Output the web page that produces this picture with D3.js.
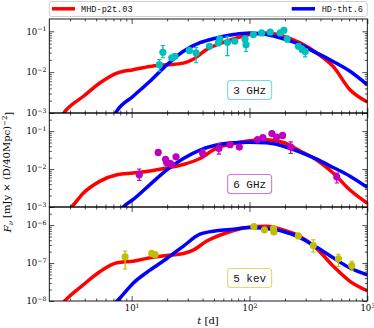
<!DOCTYPE html>
<html>
<head>
<meta charset="utf-8">
<script src="https://cdn.jsdelivr.net/npm/d3@7"></script>
<style>
body{margin:0;background:#fff}
svg{display:block}
</style>
</head>
<body>
<svg id="chart" width="374" height="328"></svg>
<script>
// nomi e limiti
const models = ['MHD-p2t.03', 'HD-tht.6']
const bands = ['3 GHz', '6 GHz', '5 kev']
const xLim = [2, 1000]
const yLims = [[1e-3, 0.2], [1e-3, 0.3], [1e-8, 3e-6]]
const xTickVals = [10, 100, 1000]
const yTickVals = [[1e-3, 1e-2, 1e-1], [1e-3, 1e-2, 1e-1], [1e-8, 1e-7, 1e-6]]

// curve modello 3 GHz
const tRed1 = [2.5, 2.8, 3.9, 5.4, 7.5, 10.3, 14.3, 19.9, 27.5, 33, 43, 64, 100, 140, 194, 269, 372, 513, 713, 1000]
const fRed1 = [7.9e-4, 1.2e-3, 2.57e-3, 5.5e-3, 9.5e-3, 1.15e-2, 1.38e-2, 1.51e-2, 1.66e-2, 2.04e-2, 3.55e-2, 5.7e-2, 8.3e-2, 9.1e-2, 7.6e-2, 5.2e-2, 2.95e-2, 1.38e-2, 3.7e-3, 1.86e-3]
const tBlue1 = [7, 7.5, 10.3, 14.3, 19.9, 27.5, 38, 52.5, 73, 100, 140, 194, 269, 372, 513, 713, 1000]
const fBlue1 = [7.9e-4, 1.12e-3, 2.57e-3, 6.0e-3, 1.51e-2, 3.24e-2, 5.25e-2, 6.9e-2, 8.3e-2, 9.1e-2, 8.3e-2, 6.5e-2, 4.7e-2, 2.95e-2, 1.82e-2, 1.05e-2, 4.9e-3]

// curve modello 6 GHz
const tRed2 = [2.8, 3.1, 3.9, 5.4, 7.5, 10.3, 14.3, 19.9, 27.5, 38, 52.5, 73, 100, 140, 194, 269, 372, 513, 713, 1000]
const fRed2 = [7.1e-4, 1.0e-3, 2.34e-3, 4.8e-3, 7.1e-3, 7.9e-3, 8.9e-3, 1.07e-2, 1.32e-2, 1.9e-2, 3.55e-2, 4.7e-2, 5.6e-2, 5.9e-2, 5.0e-2, 3.0e-2, 1.74e-2, 7.9e-3, 2.8e-3, 1.26e-3]
const tBlue2 = [8, 8.5, 10.3, 14.3, 19.9, 27.5, 38, 52.5, 73, 100, 140, 194, 269, 372, 513, 713, 1000]
const fBlue2 = [7.9e-4, 1.0e-3, 1.58e-3, 3.9e-3, 9.5e-3, 1.9e-2, 3.16e-2, 4.3e-2, 4.9e-2, 5.1e-2, 4.9e-2, 4.0e-2, 2.8e-2, 1.82e-2, 1.1e-2, 6.5e-3, 3.3e-3]

// curve modello 5 keV
const tRed3 = [2.5, 2.7, 3.9, 5.4, 7.5, 10.3, 14.3, 19.9, 27.5, 33.3, 43.4, 64, 95, 140, 194, 269, 372, 513, 713, 1000]
const fRed3 = [7.6e-9, 1.0e-8, 2.7e-8, 6.0e-8, 1.02e-7, 1.12e-7, 1.38e-7, 1.58e-7, 1.78e-7, 2.19e-7, 3.8e-7, 6.3e-7, 8.7e-7, 9.3e-7, 7.4e-7, 5.0e-7, 2.4e-7, 8.3e-8, 3.3e-8, 1.86e-8]
const tBlue3 = [6.5, 7.5, 10.3, 14.3, 19.9, 27.5, 38, 52.5, 73, 100, 140, 194, 269, 372, 513, 713, 1000]
const fBlue3 = [7.1e-9, 1.0e-8, 2.95e-8, 6.5e-8, 1.32e-7, 2.8e-7, 5.75e-7, 7.1e-7, 7.8e-7, 8.7e-7, 8.1e-7, 6.8e-7, 4.7e-7, 2.6e-7, 1.38e-7, 7.4e-8, 4.9e-8]

// osservazioni 3 GHz
const tObs1 = [17.2, 18.4, 21.9, 23.3, 30.9, 35.2, 45.7, 54.5, 56, 65, 75, 91.6, 93.5, 108, 127, 150, 182, 196, 209, 260, 278, 297]
const fObs1 = [0.0153, 0.0306, 0.0224, 0.0245, 0.034, 0.0296, 0.043, 0.052, 0.065, 0.054, 0.057, 0.065, 0.047, 0.083, 0.091, 0.095, 0.091, 0.106, 0.065, 0.043, 0.037, 0.032]
const loObs1 = [0.0105, 0.0226, 0.0200, 0.0215, 0.030, 0.017, 0.038, 0.046, 0.058, 0.0254, 0.051, 0.059, 0.032, 0.076, 0.083, 0.087, 0.083, 0.097, 0.055, 0.038, 0.031, 0.0236]
const hiObs1 = [0.0204, 0.045, 0.0250, 0.0275, 0.038, 0.040, 0.049, 0.058, 0.072, 0.0755, 0.063, 0.071, 0.065, 0.090, 0.099, 0.103, 0.099, 0.116, 0.075, 0.048, 0.043, 0.038]

// osservazioni 6 GHz
const tObs2 = [11.6, 16.8, 19.4, 19.8, 21.2, 21.9, 23.8, 40, 55, 68.5, 82, 117, 130, 155, 170, 191, 224, 551]
const fObs2 = [0.0071, 0.0275, 0.018, 0.0148, 0.0142, 0.0129, 0.021, 0.026, 0.035, 0.044, 0.038, 0.060, 0.067, 0.086, 0.070, 0.077, 0.038, 0.0062]
const loObs2 = [0.0050, 0.025, 0.016, 0.013, 0.0128, 0.0117, 0.019, 0.0205, 0.0248, 0.038, 0.033, 0.054, 0.061, 0.078, 0.063, 0.070, 0.0258, 0.0043]
const hiObs2 = [0.0100, 0.030, 0.020, 0.0165, 0.0157, 0.0142, 0.023, 0.033, 0.047, 0.050, 0.043, 0.066, 0.073, 0.094, 0.077, 0.085, 0.052, 0.0078]

// osservazioni 5 keV
const tObs3 = [8.8, 14.8, 15.8, 109, 134, 160, 161, 260, 348, 569, 738]
const fObs3 = [1.46e-7, 1.79e-7, 1.66e-7, 9.2e-7, 7.5e-7, 8.1e-7, 6.6e-7, 5.2e-7, 2.9e-7, 1.29e-7, 8.6e-8]
const loObs3 = [7.0e-8, 1.65e-7, 1.53e-7, 8.5e-7, 6.9e-7, 7.4e-7, 6.0e-7, 4.7e-7, 1.95e-7, 8.2e-8, 6.5e-8]
const hiObs3 = [2.07e-7, 1.95e-7, 1.8e-7, 1.0e-6, 8.1e-7, 8.8e-7, 7.2e-7, 5.7e-7, 4.1e-7, 1.7e-7, 1.12e-7]

const lineColors = ['#ff0000', '#0000ff']
const obsColors = ['#00bfbf', '#bf00bf', '#bfbf00']
const serif = "'DejaVu Serif', 'Liberation Serif', serif"
const mono = "'Liberation Mono', 'DejaVu Sans Mono', monospace"

const zip = (a, b) => a.map((v, i) => [v, b[i]])
const panels = [
	{ red: zip(tRed1, fRed1), blue: zip(tBlue1, fBlue1), t: tObs1, f: fObs1, lo: loObs1, hi: hiObs1 },
	{ red: zip(tRed2, fRed2), blue: zip(tBlue2, fBlue2), t: tObs2, f: fObs2, lo: loObs2, hi: hiObs2 },
	{ red: zip(tRed3, fRed3), blue: zip(tBlue3, fBlue3), t: tObs3, f: fObs3, lo: loObs3, hi: hiObs3 }
]

const svg = d3.select('#chart')
const left = 49.3, right = 367.3, top0 = 19, ph = 94

const xScale = d3.scaleLog().domain(xLim).range([left, right])

// tacche minori 2..9 x 10^k
const minorTicks = dom => {
	const out = []
	for (let k = Math.floor(Math.log10(dom[0])); k <= Math.ceil(Math.log10(dom[1])); k++) {
		for (let m = 2; m <= 9; m++) {
			const v = m * Math.pow(10, k)
			if (v > dom[0] && v < dom[1]) out.push(v)
		}
	}
	return out
}

const powLabel = (sel) => {
	sel.selectAll('.tick text').each(function (d) {
		const t = d3.select(this)
		const e = Math.round(Math.log10(d))
		t.text('')
		t.append('tspan').text('10')
		t.append('tspan').attr('dy', '-0.5em').attr('font-size', '0.72em').text(e < 0 ? '\u2212' + (-e) : e)
	})
}

const styleAxis = g => {
	g.select('.domain').remove()
	g.selectAll('.tick line').attr('stroke', '#000').attr('stroke-width', 0.7)
	g.selectAll('.tick text').attr('fill', '#000').style('font-family', serif).style('font-size', '8.5px')
}

panels.forEach((p, i) => {
	const top = top0 + i * ph
	const yScale = d3.scaleLog().domain(yLims[i]).range([top + ph, top])
	const g = svg.append('g')

	g.append('clipPath').attr('id', 'clip' + i)
		.append('rect').attr('x', left).attr('y', top).attr('width', right - left).attr('height', ph)

	const line = d3.line()
		.x(d => xScale(d[0]))
		.y(d => yScale(d[1]))
		.curve(d3.curveMonotoneX)

	const plot = g.append('g').attr('clip-path', `url(#clip${i})`)
	plot.append('path').attr('d', line(p.red)).attr('fill', 'none')
		.attr('stroke', lineColors[0]).attr('stroke-width', 3.5)
	plot.append('path').attr('d', line(p.blue)).attr('fill', 'none')
		.attr('stroke', lineColors[1]).attr('stroke-width', 3.5)

	// barre d'errore
	const obs = p.t.map((t, j) => ({ t: t, f: p.f[j], lo: p.lo[j], hi: p.hi[j] }))
	const eb = plot.selectAll('g.eb').data(obs).enter().append('g').attr('class', 'eb')
	eb.append('line')
		.attr('x1', d => xScale(d.t)).attr('x2', d => xScale(d.t))
		.attr('y1', d => yScale(d.lo)).attr('y2', d => yScale(d.hi))
		.attr('stroke', obsColors[i]).attr('stroke-width', 1.3)
	eb.selectAll('line.cap').data(d => [d.lo, d.hi].map(v => ({ t: d.t, v: v }))).enter()
		.append('line').attr('class', 'cap')
		.attr('x1', d => xScale(d.t) - 2.2).attr('x2', d => xScale(d.t) + 2.2)
		.attr('y1', d => yScale(d.v)).attr('y2', d => yScale(d.v))
		.attr('stroke', obsColors[i]).attr('stroke-width', 1.1)
	plot.selectAll('circle.obs').data(obs).enter().append('circle').attr('class', 'obs')
		.attr('cx', d => xScale(d.t)).attr('cy', d => yScale(d.f))
		.attr('r', 3.6).attr('fill', obsColors[i])

	// assi
	const yMinor = minorTicks(yLims[i])
	const ax = [
		g.append('g').attr('transform', `translate(${left},0)`)
			.call(d3.axisLeft(yScale).tickValues(yTickVals[i]).tickSize(-5).tickPadding(3).tickFormat(d => d)),
		g.append('g').attr('transform', `translate(${left},0)`)
			.call(d3.axisLeft(yScale).tickValues(yMinor).tickSize(-2.5).tickFormat('')),
		g.append('g').attr('transform', `translate(${right},0)`)
			.call(d3.axisRight(yScale).tickValues(yTickVals[i]).tickSize(-5).tickFormat('')),
		g.append('g').attr('transform', `translate(${right},0)`)
			.call(d3.axisRight(yScale).tickValues(yMinor).tickSize(-2.5).tickFormat('')),
		g.append('g').attr('transform', `translate(0,${top})`)
			.call(d3.axisTop(xScale).tickValues(xTickVals).tickSize(-5).tickFormat('')),
		g.append('g').attr('transform', `translate(0,${top})`)
			.call(d3.axisTop(xScale).tickValues(minorTicks(xLim)).tickSize(-2.5).tickFormat('')),
		g.append('g').attr('transform', `translate(0,${top + ph})`)
			.call(d3.axisBottom(xScale).tickValues(xTickVals).tickSize(-5).tickPadding(4)
				.tickFormat(i === 2 ? (d => d) : '')),
		g.append('g').attr('transform', `translate(0,${top + ph})`)
			.call(d3.axisBottom(xScale).tickValues(minorTicks(xLim)).tickSize(-2.5).tickFormat(''))
	]
	ax.forEach(styleAxis)
	powLabel(ax[0])
	if (i === 2) powLabel(ax[6])

	g.append('rect').attr('x', left).attr('y', top).attr('width', right - left).attr('height', ph)
		.attr('fill', 'none').attr('stroke', '#000').attr('stroke-width', 0.9)

	// etichetta della banda
	const bx = left + 0.63 * (right - left), by = top + 71
	g.append('rect').attr('x', bx - 22).attr('y', by - 9.5).attr('width', 44).attr('height', 19)
		.attr('rx', 3).attr('fill', '#fff').attr('stroke', obsColors[i])
		.attr('stroke-opacity', 0.55).attr('stroke-width', 1.1)
	g.append('text').attr('x', bx).attr('y', by + 4).attr('text-anchor', 'middle')
		.style('font-family', mono).style('font-size', '11px').attr('fill', '#111')
		.text(bands[i])
})

// legenda
svg.append('rect').attr('x', left).attr('y', 1.5).attr('width', right - left).attr('height', 15)
	.attr('rx', 2.5).attr('fill', '#fff').attr('stroke', '#cccccc').attr('stroke-width', 0.9)
svg.append('line').attr('x1', 52).attr('x2', 75).attr('y1', 8.8).attr('y2', 8.8)
	.attr('stroke', lineColors[0]).attr('stroke-width', 3.5)
svg.append('text').attr('x', 81).attr('y', 11.8).style('font-family', mono).style('font-size', '8.6px')
	.attr('fill', '#111').text(models[0])
svg.append('line').attr('x1', 291.7).attr('x2', 315).attr('y1', 8.8).attr('y2', 8.8)
	.attr('stroke', lineColors[1]).attr('stroke-width', 3.5)
svg.append('text').attr('x', 321.7).attr('y', 11.8).style('font-family', mono).style('font-size', '8.6px')
	.attr('fill', '#111').text(models[1])

// etichette assi
const yl = svg.append('text').attr('transform', 'translate(11,172) rotate(-90)')
	.attr('text-anchor', 'middle').style('font-family', serif).style('font-size', '10px').attr('fill', '#000')
yl.append('tspan').attr('font-style', 'italic').text('F')
yl.append('tspan').attr('dy', '0.3em').attr('font-size', '0.7em').attr('font-style', 'italic').text('\u03bd')
yl.append('tspan').attr('dy', '-0.3em').text(' [mJy \u00d7 (D/40Mpc)')
yl.append('tspan').attr('dy', '-0.5em').attr('font-size', '0.7em').text('\u22122')
yl.append('tspan').attr('dy', '0.5em').text(']')

const xl = svg.append('text').attr('x', 208).attr('y', 324).attr('text-anchor', 'middle')
	.style('font-family', serif).style('font-size', '10px').attr('fill', '#000')
xl.append('tspan').attr('font-style', 'italic').text('t')
xl.append('tspan').text(' [d]')
</script>
</body>
</html>
